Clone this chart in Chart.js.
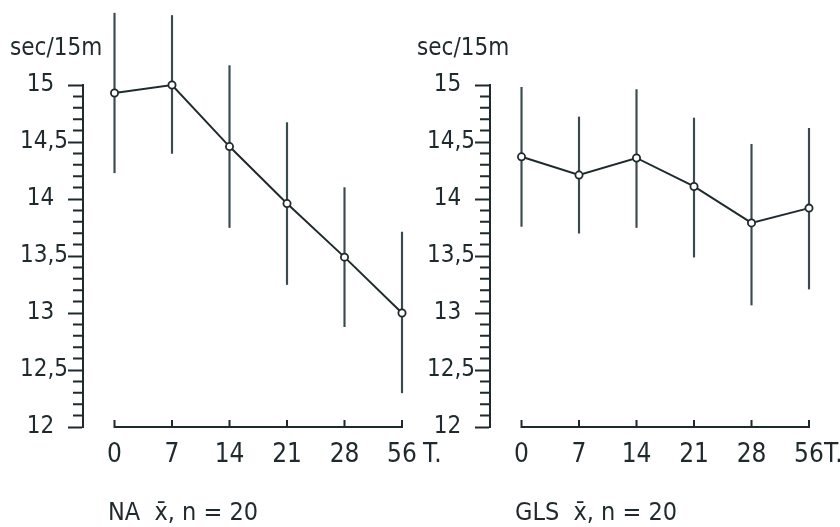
<!DOCTYPE html>
<html>
<head>
<meta charset="utf-8">
<script src="https://cdn.jsdelivr.net/npm/chart.js@4.4.1/dist/chart.umd.min.js"></script>
<style>
  body { margin: 0; background: #fff; }
  #wrap { position: relative; width: 840px; height: 527px; overflow: hidden; }
  canvas { position: absolute; top: 0; }
  #naChart { left: 0; }
  #glsChart { left: 407px; }
  .caption {
    position: absolute; top: 497px; line-height: 28px; white-space: pre;
    font: 25px "DejaVu Sans Condensed", sans-serif;
    color: #1f2a2e;
  }
</style>
</head>
<body>
<div id="wrap">
  <canvas id="naChart" width="460" height="527"></canvas>
  <canvas id="glsChart" width="460" height="527"></canvas>
  <div class="caption" style="left:108px">NA  x&#772;, n = 20</div>
  <div class="caption" style="left:515px">GLS  x&#772;, n = 20</div>
</div>
<script>
const INK = "#1f2a2e";
const BAR_INK = "#3b4a50";
const FONT = '"DejaVu Sans Condensed", sans-serif';

// Trainingstage
const days = ["0", "7", "14", "21", "28", "56"];

// NA: Mittelwert und Streuung (sec/15m)
const naMean = [14.93, 15.0, 14.46, 13.96, 13.49, 13.0];
const naLow = [14.23, 14.4, 13.75, 13.25, 12.88, 12.3];
const naHigh = [15.63, 15.61, 15.17, 14.67, 14.1, 13.71];

// GLS
const glsMean = [14.37, 14.21, 14.36, 14.11, 13.79, 13.92];
const glsLow = [13.76, 13.7, 13.75, 13.49, 13.07, 13.21];
const glsHigh = [14.98, 14.72, 14.96, 14.71, 14.48, 14.62];

const yMin = 12;
const yMax = 15;

// x-Bereich: etwas Luft zwischen y-Achse und Tag 0
const xMin = -0.548;
const xMax = 5.313;
const X_LABEL_PAD = 13;
const X_LABEL_SIZE = 26;

// 12, 12,5 ... mit Komma; ganze Zahlen etwa am Komma ausgerichtet
const yLabel = (v) => {
  const k = Math.round(v * 10);
  if (k % 5) return "";
  return k % 10 ? `${(k - 5) / 10},5` : `${k / 10}\u2007`;
};

// kurze Striche alle 0,1 an der y-Achse, eigene x-Achse nur von Tag 0 bis 56
const axisMarks = {
  id: "axisMarks",
  afterDraw(chart, args, opts) {
    const { ctx, scales: { x, y } } = chart;
    const axisX = y.right;
    const base = y.getPixelForValue(yMin);
    ctx.save();
    ctx.strokeStyle = INK;
    ctx.lineWidth = 2;
    ctx.beginPath();
    for (let k = yMin * 10; k <= yMax * 10; k++) {
      if (k % 5 === 0) continue;
      const py = y.getPixelForValue(k / 10);
      ctx.moveTo(axisX - 10, py);
      ctx.lineTo(axisX, py);
    }
    const first = x.getPixelForValue(0);
    const last = x.getPixelForValue(days.length - 1);
    ctx.moveTo(first, base);
    ctx.lineTo(last, base);
    days.forEach((d, i) => {
      const px = x.getPixelForValue(i);
      ctx.moveTo(px, base + 1);
      ctx.lineTo(px, base - 7);
    });
    ctx.stroke();

    // Einheit hinter dem letzten Tag
    ctx.fillStyle = INK;
    ctx.font = `${X_LABEL_SIZE}px ${FONT}`;
    ctx.textAlign = "left";
    ctx.textBaseline = "middle";
    ctx.fillText("T.", last + opts.tGap, x.top + X_LABEL_PAD + X_LABEL_SIZE * 0.6);
    ctx.restore();
  }
};

function drawPanel(id, mean, low, high, tGap) {
  return new Chart(document.getElementById(id), {
    type: "bar",
    data: {
      datasets: [
        {
          type: "line",
          data: days.map((d, i) => ({ x: i, y: mean[i] })),
          borderColor: INK,
          borderWidth: 2,
          pointRadius: 3.6,
          pointBorderWidth: 1.8,
          pointBorderColor: INK,
          pointBackgroundColor: "#fff",
          tension: 0,
          clip: false,
          order: 0
        },
        {
          type: "bar",
          data: days.map((d, i) => ({ x: i, y: [low[i], high[i]] })),
          backgroundColor: BAR_INK,
          barThickness: 1.5,
          clip: false,
          order: 1
        }
      ]
    },
    options: {
      responsive: false,
      animation: false,
      layout: { padding: { left: 10, right: 40, top: 0, bottom: 0 } },
      plugins: {
        legend: { display: false },
        tooltip: { enabled: false },
        title: {
          display: true,
          text: "sec/15m",
          align: "start",
          color: INK,
          font: { family: FONT, size: 24, weight: "normal" },
          padding: { top: 34, bottom: 22.2 }
        },
        axisMarks: { tGap: tGap }
      },
      scales: {
        x: {
          type: "linear",
          min: xMin,
          max: xMax,
          offset: false,
          grid: { display: false, drawTicks: false },
          border: { display: false },
          afterBuildTicks: (scale) => {
            scale.ticks = days.map((d, i) => ({ value: i }));
          },
          ticks: {
            autoSkip: false,
            maxRotation: 0,
            padding: X_LABEL_PAD,
            color: INK,
            font: { family: FONT, size: X_LABEL_SIZE },
            callback: (v) => days[Math.round(v)]
          },
          afterFit: (scale) => { scale.height = 100; }
        },
        y: {
          min: yMin,
          max: yMax,
          grid: {
            drawOnChartArea: false,
            drawTicks: true,
            tickLength: 15,
            tickWidth: 2,
            tickColor: (c) => (Math.round(c.tick.value * 10) % 5 ? "transparent" : INK)
          },
          border: { display: true, color: INK, width: 2 },
          ticks: {
            stepSize: 0.1,
            maxTicksLimit: 100,
            autoSkip: false,
            padding: 0,
            color: INK,
            font: { family: FONT, size: 24 },
            callback: yLabel
          },
          afterFit: (scale) => { scale.width = 73; }
        }
      }
    },
    plugins: [axisMarks]
  });
}

drawPanel("naChart", naMean, naLow, naHigh, 21);
drawPanel("glsChart", glsMean, glsLow, glsHigh, 15);
</script>
</body>
</html>
